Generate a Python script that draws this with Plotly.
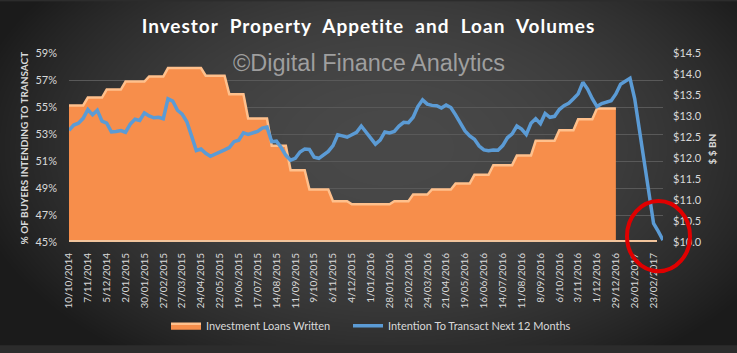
import base64, struct, zlib
import numpy as np
import plotly.graph_objects as go

# ---------------- data ----------------
week_labels = ["10/10/2014", "7/11/2014", "5/12/2014", "2/01/2015", "30/01/2015", "27/02/2015",
               "27/03/2015", "24/04/2015", "22/05/2015", "19/06/2015", "17/07/2015", "14/08/2015",
               "11/09/2015", "9/10/2015", "6/11/2015", "4/12/2015", "1/01/2016", "28/01/2016",
               "25/02/2016", "24/03/2016", "21/04/2016", "19/05/2016", "16/06/2016", "14/07/2016",
               "11/08/2016", "8/09/2016", "6/10/2016", "3/11/2016", "1/12/2016", "29/12/2016",
               "26/01/2017", "23/02/2017"]

# monthly investment loans written ($ BN), Oct-2014 .. Dec-2016, and weekly points in each month
loan_months = ["Oct-14", "Nov-14", "Dec-14", "Jan-15", "Feb-15", "Mar-15", "Apr-15", "May-15", "Jun-15",
               "Jul-15", "Aug-15", "Sep-15", "Oct-15", "Nov-15", "Dec-15", "Jan-16", "Feb-16", "Mar-16",
               "Apr-16", "May-16", "Jun-16", "Jul-16", "Aug-16", "Sep-16", "Oct-16", "Nov-16", "Dec-16"]
loan_values = [13.25, 13.44, 13.63, 13.82, 13.94, 14.14, 14.14, 13.96, 13.52,
               12.94, 12.29, 11.71, 11.25, 10.97, 10.90, 10.90, 10.97, 11.13,
               11.25, 11.39, 11.60, 11.83, 12.06, 12.41, 12.66, 12.92, 13.18]
loan_weeks = [4, 4, 4, 5, 4, 4, 4, 5, 4,
              5, 4, 4, 5, 4, 4, 5, 4, 4,
              5, 4, 4, 5, 4, 5, 4, 4, 5]

# weekly intention to transact next 12 months (%)
intention = [53.28, 53.66, 53.80, 54.16, 54.81, 54.42, 54.76, 53.95, 53.80, 53.15,
             53.19, 53.26, 53.13, 53.73, 54.09, 54.00, 54.56, 54.34, 54.20, 54.24,
             54.13, 55.61, 55.44, 54.76, 54.47, 53.91, 52.86, 51.78, 51.89, 51.57,
             51.35, 51.49, 51.67, 51.82, 52.00, 52.43, 52.54, 53.08, 52.97, 53.08,
             53.19, 53.44, 53.51, 52.43, 52.47, 52.00, 51.42, 51.06, 51.20, 51.67,
             51.88, 51.85, 51.28, 51.20, 51.46, 51.71, 52.14, 52.94, 52.86, 52.76,
             52.94, 53.12, 53.59, 53.15, 52.65, 52.25, 52.54, 53.15, 53.08, 53.19,
             53.59, 53.87, 53.84, 54.24, 55.03, 55.53, 55.21, 55.12, 55.10, 54.92,
             55.14, 54.96, 54.42, 53.84, 53.23, 52.86, 52.61, 52.11, 51.82, 51.76,
             51.82, 51.80, 52.14, 52.72, 53.01, 53.59, 53.37, 52.97, 53.80, 54.13,
             53.77, 54.52, 54.24, 54.31, 54.81, 55.10, 55.28, 55.61, 55.97, 56.83,
             56.33, 55.61, 55.03, 55.25, 55.39, 55.46, 55.97, 56.69, 56.90, 57.12,
             55.61, 53.30, 50.84, 48.54, 46.37, 45.79, 45.14]

loans_weekly = np.repeat(loan_values, loan_weeks)
x_loans = np.arange(len(loans_weekly))
x_int = np.arange(len(intention))
tick_pos = np.arange(len(week_labels)) * 4


# ---------------- background gradient (style only) ----------------
def png_uri(arr):
    h, w, _ = arr.shape
    raw = b"".join(b"\x00" + arr[r].tobytes() for r in range(h))

    def chunk(t, d):
        return struct.pack(">I", len(d)) + t + d + struct.pack(">I", zlib.crc32(t + d) & 0xFFFFFFFF)

    png = (b"\x89PNG\r\n\x1a\n" + chunk(b"IHDR", struct.pack(">IIBBBBB", w, h, 8, 2, 0, 0, 0))
           + chunk(b"IDAT", zlib.compress(raw, 9)) + chunk(b"IEND", b""))
    return "data:image/png;base64," + base64.b64encode(png).decode()


W, H = 737, 353
yy, xx = np.mgrid[0:H, 0:W]
d = np.sqrt(((xx - 390) / 430.0) ** 2 + ((yy - 150) / 270.0) ** 2)
v = 27 + 46 * np.clip(1 - d ** 2, 0, 1)
bg = np.repeat(v[:, :, None], 3, axis=2).astype(np.uint8)
bg_uri = png_uri(bg)

# plot area in pixels
PL, PR, PT, PB = 69, 663, 53, 247
pw, ph = PR - PL, PB - PT


def px(x):
    return (x - PL) / pw


def py(y):
    return (PB - y) / ph


fig = go.Figure()
fig.add_trace(go.Scatter(
    x=x_loans, y=loans_weekly, name="Investment Loans Written", yaxis="y",
    mode="lines", fill="tozeroy", fillcolor="#f78e4b",
    line=dict(color="#ffc08c", width=2.5), hoverinfo="skip"))
fig.add_trace(go.Scatter(
    x=x_int, y=intention, name="Intention To Transact Next 12 Months", yaxis="y2",
    mode="lines", line=dict(color="#5b9bd5", width=3.5), hoverinfo="skip"))
# empty legend slot so the second legend label is not clipped
fig.add_trace(go.Scatter(
    x=[None], y=[None], name=" ", yaxis="y2", mode="lines",
    line=dict(color="rgba(0,0,0,0)", width=0), hoverinfo="skip"))

tick_font = dict(family="Lato, Liberation Sans, sans-serif", size=11, color="#d9d9d9")

fig.update_layout(
    width=W, height=H,
    margin=dict(l=PL, r=W - PR, t=PT, b=H - PB, pad=0),
    paper_bgcolor="#2c2c2c", plot_bgcolor="rgba(0,0,0,0)",
    showlegend=True,
    title=dict(text='<span style="letter-spacing:1px">Investor  Property  Appetite  and  Loan  Volumes</span>',
               font=dict(family="Lato, Liberation Sans, sans-serif", size=19, color="#ffffff", weight="bold"),
               x=0.5, xref="container", xanchor="center", y=1 - 26 / H, yref="container", yanchor="middle"),
    xaxis=dict(range=[0, 126], tickmode="array", tickvals=tick_pos, ticktext=week_labels,
               tickangle=-90, tickfont=dict(family="Lato, Liberation Sans, sans-serif", size=10, color="#d9d9d9"),
               showgrid=False, zeroline=False, showline=False, ticks="", ticklabelstandoff=8),
    yaxis=dict(range=[10, 14.5], tick0=10, dtick=0.5, tickprefix="$", tickformat=".1f", side="right",
               showgrid=False, zeroline=False, showline=False, tickfont=tick_font, ticks="",
               ticklabelstandoff=9),
    yaxis2=dict(range=[45, 59], tick0=45, dtick=2, ticksuffix="%", side="left", overlaying="y",
                showgrid=True, gridcolor="#595959", gridwidth=1, zeroline=False, showline=False,
                tickfont=tick_font, ticks="", ticklabelstandoff=11),
    legend=dict(orientation="h", x=px(166), y=py(333), xanchor="left", yanchor="middle",
                font=dict(family="Lato, Liberation Sans, sans-serif", size=11, color="#d9d9d9"),
                bgcolor="rgba(0,0,0,0)", entrywidth=137, entrywidthmode="pixels"),
    images=[dict(source=bg_uri, xref="paper", yref="paper", x=px(0), y=py(0),
                 sizex=W / pw, sizey=H / ph, sizing="stretch", xanchor="left", yanchor="top",
                 layer="below")],
    annotations=[
        dict(text="©Digital Finance Analytics", xref="paper", yref="paper", x=px(368.5), y=py(63),
             showarrow=False, xanchor="center", yanchor="middle",
             font=dict(family="Liberation Sans, Arial, sans-serif", size=23.5, color="rgba(190,190,190,0.75)")),
        dict(text="% OF BUYERS INTENDING TO TRANSACT", xref="paper", yref="paper", x=px(24), y=py(151),
             showarrow=False, textangle=-90, xanchor="center", yanchor="middle",
             font=dict(family="Lato, Liberation Sans, sans-serif", size=10, color="#d9d9d9", weight="bold")),
        dict(text="$ $ BN", xref="paper", yref="paper", x=px(712), y=py(151),
             showarrow=False, textangle=-90, xanchor="center", yanchor="middle",
             font=dict(family="Lato, Liberation Sans, sans-serif", size=10, color="#d9d9d9", weight="bold")),
    ],
    shapes=[
        dict(type="line", xref="paper", yref="paper", x0=0, x1=px(657), y0=py(246), y1=py(246),
             line=dict(color="#f2c49c", width=2)),
        dict(type="circle", xref="paper", yref="paper", x0=px(627), x1=px(690), y0=py(277), y1=py(205),
             line=dict(color="#e00000", width=4)),
    ],
)

fig.write_html("out.html")
